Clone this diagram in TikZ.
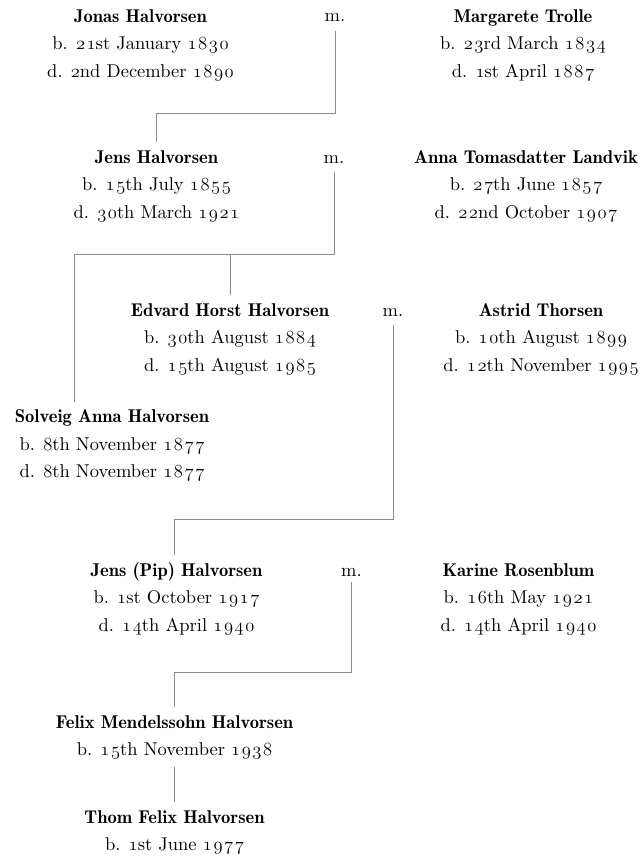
\documentclass[tikz,border=0pt]{standalone}
\font\osffont=cmmi12 at 18.5pt
\font\rmten="[lmroman10-regular]" at 18.5pt
\newdimen\osfk \osfk=1.6pt
\def\OSF#1{{\osffont\OSFa#1\relax}}
\def\OSFa#1{#1\OSFb}
\def\OSFb#1{\ifx#1\relax\else\kern\osfk#1\expandafter\OSFb\fi}
\newcommand\nm[1]{\rule{0pt}{14pt}{\fontseries{b}\selectfont#1}}
\newcommand\Dstrut{\rule[-6pt]{0pt}{6pt}}
\tikzset{
  person/.style={align=center, anchor=north, inner sep=0pt, text=black,
    font={\fontsize{18.5}{27.5}\selectfont\rmten}},
  marr/.style={anchor=base, inner sep=0pt, text=black,
    font={\fontsize{18.5}{27.5}\selectfont\rmten}},
  conn/.style={draw=black!45, line width=0.9pt},
}
\begin{document}
\begin{tikzpicture}[x=1pt,y=-1pt]
\useasboundingbox (0,0) rectangle (644,859);
% generation 1
\node[person] (jonas) at (140.5,8) {\nm{Jonas Halvorsen}\\ b. \OSF{21}st January \OSF{1830}\\ d. \OSF{2}nd December \OSF{1890}\Dstrut};
\node[marr] (m1) at (335,22) {m.};
\node[person] (marg) at (523,8) {\nm{Margarete Trolle}\\ b. \OSF{23}rd March \OSF{1834}\\ d. \OSF{1}st April \OSF{1887}\Dstrut};
% generation 2
\node[person] (jens) at (156.5,149) {\nm{Jens Halvorsen}\\ b. \OSF{15}th July \OSF{1855}\\ d. \OSF{30}th March \OSF{1921}\Dstrut};
\node[marr] (m2) at (334,163) {m.};
\node[person] (anna) at (526,149) {\nm{Anna Tomasdatter Landvik}\\ b. \OSF{27}th June \OSF{1857}\\ d. \OSF{22}nd October \OSF{1907}\Dstrut};
% generation 3
\node[person] (edvard) at (230,302) {\nm{Edvard Horst Halvorsen}\\ b. \OSF{30}th August \OSF{1884}\\ d. \OSF{15}th August \OSF{1985}\Dstrut};
\node[marr] (m3) at (393,316) {m.};
\node[person] (astrid) at (541,302) {\nm{Astrid Thorsen}\\ b. \OSF{10}th August \OSF{1899}\\ d. \OSF{12}th November \OSF{1995}\Dstrut};
\node[person] (solveig) at (112,408.5) {\nm{Solveig Anna Halvorsen}\\ b. \OSF{8}th November \OSF{1877}\\ d. \OSF{8}th November \OSF{1877}\Dstrut};
% generation 4
\node[person] (pip) at (176.5,562) {\nm{Jens (Pip) Halvorsen}\\ b. \OSF{1}st October \OSF{1917}\\ d. \OSF{14}th April \OSF{1940}\Dstrut};
\node[marr] (m5) at (351.5,576) {m.};
\node[person] (karine) at (518.5,562) {\nm{Karine Rosenblum}\\ b. \OSF{16}th May \OSF{1921}\\ d. \OSF{14}th April \OSF{1940}\Dstrut};
% generation 5 and 6
\node[person] (felix) at (174.5,714) {\nm{Felix Mendelssohn Halvorsen}\\ b. \OSF{15}th November \OSF{1938}\Dstrut};
\node[person] (thom) at (174.5,809) {\nm{Thom Felix Halvorsen}\\ b. \OSF{1}st June \OSF{1977}\Dstrut};
% levels of the horizontal connectors
\coordinate (h1) at (0,113);
\coordinate (h2) at (0,254);
\coordinate (h3) at (0,519);
\coordinate (h4) at (0,672.5);
% connectors
\draw[conn] ([yshift=-8.7pt]m1.base) -- (m1.base |- h1) -| ([yshift=7pt]jens.north);
\draw[conn] ([yshift=-8.7pt]m2.base) -- (m2.base |- h2) -| ([xshift=-38pt,yshift=7pt]solveig.north);
\draw[conn] (edvard.north |- h2) -- ([yshift=7pt]edvard.north);
\draw[conn] ([yshift=-9pt]m3.base) -- (m3.base |- h3) -| ([xshift=-2.5pt,yshift=7pt]pip.north);
\draw[conn] ([yshift=-6pt]m5.base) -- (m5.base |- h4) -| ([yshift=7pt]felix.north);
\draw[conn] ([yshift=-4.7pt]felix.south) -- ([yshift=7pt]thom.north);
\end{tikzpicture}
\end{document}
